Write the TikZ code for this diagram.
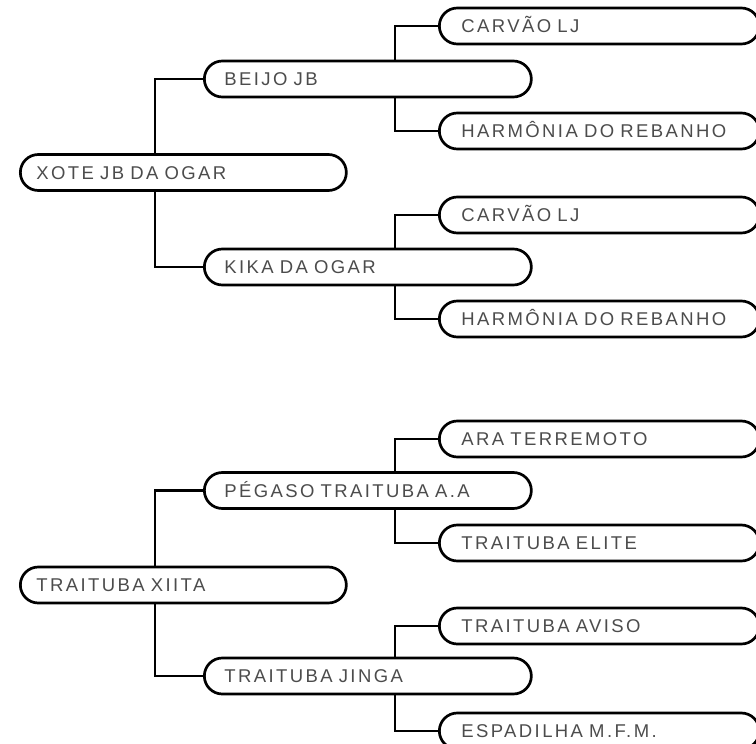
\documentclass[tikz,border=0pt]{standalone}
\usepackage{fontspec}
\setmainfont{Liberation Sans}[LetterSpace=13,WordSpace=1.5]
\usetikzlibrary{backgrounds}
\begin{document}
\begin{tikzpicture}[x=1pt,y=-1pt,
  box/.style={draw=black, line width=2.7pt, fill=white, rounded corners=18pt,
    minimum height=36pt, anchor=west, inner ysep=0pt, text height=13.2pt, text depth=0pt,
    align=left, font=\fontsize{18.5}{20}\selectfont, text=black!70},
  lone/.style={box, inner xsep=16pt, text width=294pt},
  ltwo/.style={box, inner xsep=20pt, text width=287pt},
  lthree/.style={box, inner xsep=22pt, text width=276pt},
  link/.style={line width=2.7pt, draw=black}]
\useasboundingbox (0,0) rectangle (756,744);
% top tree
\node[lone]   (xote)   at (19,172.5) {XOTE JB DA OGAR};
\node[ltwo]   (beijo)  at (203,79)   {BEIJO JB};
\node[ltwo]   (kika)   at (203,267)  {KIKA DA OGAR};
\node[lthree] (carA)   at (438,26)   {CARVÃO LJ};
\node[lthree] (harA)   at (438,131)  {HARMÔNIA DO REBANHO};
\node[lthree] (carB)   at (438,215)  {CARVÃO LJ};
\node[lthree] (harB)   at (438,319)  {HARMÔNIA DO REBANHO};
% bottom tree
\node[lone]   (xiita)  at (19,585)   {TRAITUBA XIITA};
\node[ltwo]   (pegaso) at (203,490.5){PÉGASO TRAITUBA A.A};
\node[ltwo]   (jinga)  at (203,676)  {TRAITUBA JINGA};
\node[lthree] (ara)    at (438,439)  {ARA TERREMOTO};
\node[lthree] (elite)  at (438,543)  {TRAITUBA ELITE};
\node[lthree] (aviso)  at (438,626)  {TRAITUBA AVISO};
\node[lthree] (espa)   at (438,731)  {ESPADILHA M.F.M.};
% junctions
\coordinate (ja) at (155,172.5);
\coordinate (jb) at (395,79);
\coordinate (jc) at (395,267);
\coordinate (jd) at (155,585);
\coordinate (je) at (395,490.5);
\coordinate (jf) at (395,676);
\begin{scope}[on background layer]
  \draw[link] (beijo.west) -| (ja) |- (kika.west);
  \draw[link] (carA.west) -| (jb) |- (harA.west);
  \draw[link] (carB.west) -| (jc) |- (harB.west);
  \draw[link] (pegaso.west) -| (jd) |- (jinga.west);
  \draw[link] (ara.west) -| (je) |- (elite.west);
  \draw[link] (aviso.west) -| (jf) |- (espa.west);
\end{scope}
\end{tikzpicture}
\end{document}
